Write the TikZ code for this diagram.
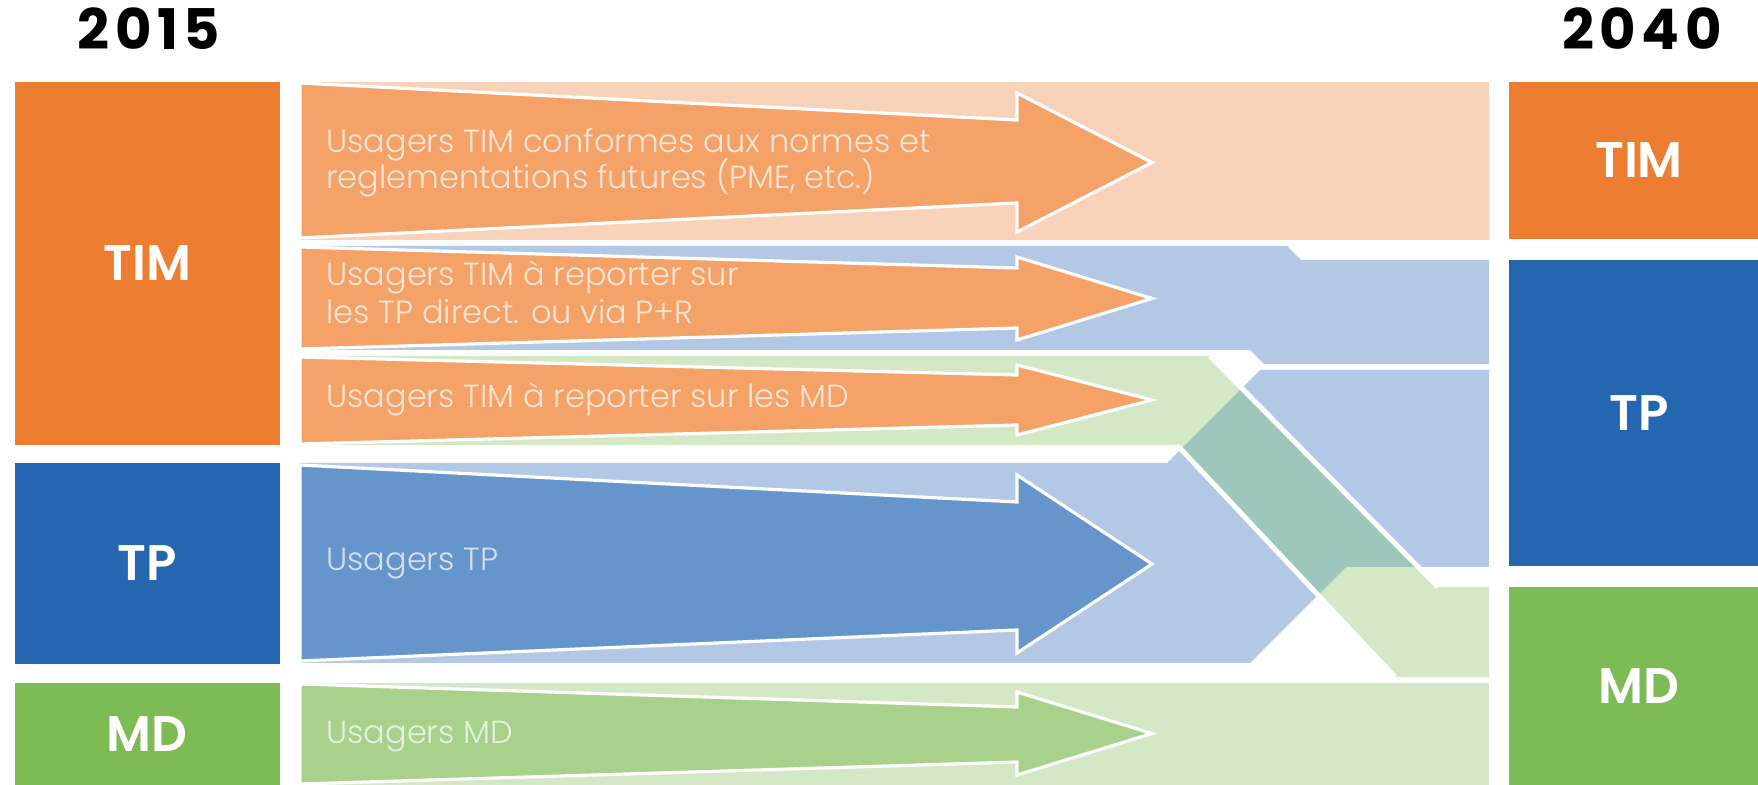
\documentclass[tikz,border=0pt]{standalone}
\usepackage{fontspec}
\setmainfont{Poppins}
\IfFontExistsTF{Poppins Light}{\newfontfamily\lightfont{Poppins Light}}{\newfontfamily\lightfont{Poppins}}
\IfFontExistsTF{Poppins SemiBold}{\newfontfamily\semifont{Poppins SemiBold}}{\newfontfamily\semifont{Poppins}[UprightFont=*-Bold,BoldFont=*-Bold]}
\usetikzlibrary{positioning}
\definecolor{timorange}{RGB}{237,125,49}
\definecolor{tpblue}{RGB}{37,102,176}
\definecolor{mdgreen}{RGB}{125,187,85}
\definecolor{timarrow}{RGB}{244,162,104}
\definecolor{tparrow}{RGB}{101,149,202}
\definecolor{mdarrow}{RGB}{168,209,140}
\definecolor{timband}{RGB}{249,210,186}
\definecolor{tpband}{RGB}{178,200,229}
\definecolor{mdband}{RGB}{212,232,198}
\definecolor{mixband}{RGB}{157,199,188}

\begin{document}
\begin{tikzpicture}[x=0.5pt,y=-0.5pt,
  modebox/.style={fill=#1,text=white,inner sep=0pt,font=\semifont\fontsize{25}{30}\selectfont},
  year/.style={anchor=base,font=\bfseries\fontsize{28}{30}\selectfont\addfontfeature{LetterSpace=10}},
  flowlabel/.style={anchor=base west,inner sep=0pt,text=white,text opacity=0.72,font=\lightfont\fontsize{16}{18}\selectfont},
  arrowline/.style={draw=white,line width=1.6pt,line join=miter}]
  \useasboundingbox (0,0) rectangle (1758,785);
  % bands behind the arrows
  \fill[timband] (300,82) rectangle (1489,240);
  \fill[tpband] (300,246) -- (1287,246) -- (1301,260) -- (1489,260) -- (1489,364)
    -- (1264,364) -- (1250,350) -- (300,350) -- cycle;
  \fill[tpband] (300,463) -- (1167,463) -- (1260,370) -- (1489,370) -- (1489,567)
    -- (1346,567) -- (1250,663) -- (300,663) -- cycle;
  \fill[mdband] (300,356) -- (1210,356) -- (1438,587) -- (1489,587) -- (1489,677)
    -- (1395,677) -- (1177,445) -- (300,445) -- cycle;
  % crossing of TIM->MD and TP->TP
  \begin{scope}
    \clip (300,356) -- (1210,356) -- (1438,587) -- (1489,587) -- (1489,677)
      -- (1395,677) -- (1177,445) -- (300,445) -- cycle;
    \fill[mixband] (300,463) -- (1167,463) -- (1260,370) -- (1489,370) -- (1489,567)
      -- (1346,567) -- (1250,663) -- (300,663) -- cycle;
  \end{scope}
  \draw[white,line width=2.5pt] (1210,356) -- (1438,587);
  \draw[white,line width=2.5pt] (1177,445) -- (1395,677);
  \fill[mdband] (300,683) rectangle (1489,785);
  % arrows
  \foreach \tailT/\tailB/\baseT/\baseB/\headT/\headB/\clr in {
      83/238/120/203/93/232/timarrow,
      247/349/268/328/257/340/timarrow,
      357/444/375/425/365/435/timarrow,
      465/661/502/630/475/653/tparrow,
      684/784/707/762/692/775/mdarrow}{
    \filldraw[arrowline,fill=\clr] (300,\tailT) -- (1017,\baseT) -- (1017,\headT)
      -- (1152,{(\headT+\headB)/2}) -- (1017,\headB) -- (1017,\baseB) -- (300,\tailB) -- cycle;
  }
  % arrow labels
  \node[flowlabel] (conf1) at (326,153) {Usagers TIM conformes aux normes et};
  \node[flowlabel] (conf2) at (326,189) {reglementations futures (PME, etc.)};
  \node[flowlabel] (rtp1) at (326,286) {Usagers TIM à reporter sur};
  \node[flowlabel] (rtp2) at (326,324) {les TP direct. ou via P+R};
  \node[flowlabel] (rmd) at (326,408) {Usagers TIM à reporter sur les MD};
  \node[flowlabel] (utp) at (326,571) {Usagers TP};
  \node[flowlabel] (umd) at (326,744) {Usagers MD};
  % modes 2015
  \node[modebox=timorange,minimum width=132.7pt,minimum height=181.5pt] (tim15) at (147.3,263.5) {TIM};
  \node[modebox=tpblue,minimum width=132.7pt,minimum height=100.5pt] (tp15) at (147.3,563.5) {TP};
  \node[modebox=mdgreen,minimum width=132.7pt,minimum height=51pt] (md15) at (147.3,734) {MD};
  % modes 2040 (boxes run past the right edge)
  \node[modebox=timorange,minimum width=130pt,minimum height=78.5pt] (tim40) at (1639,160.5) {TIM};
  \node[modebox=tpblue,minimum width=130pt,minimum height=153pt] (tp40) at (1639,413) {TP};
  \node[modebox=mdgreen,minimum width=130pt,minimum height=99pt] (md40) at (1639,686) {MD};
  % years
  \node[year] (y15) at (149,50) {2015};
  \node[year] (y40) at (1642,50) {2040};
\end{tikzpicture}
\end{document}
